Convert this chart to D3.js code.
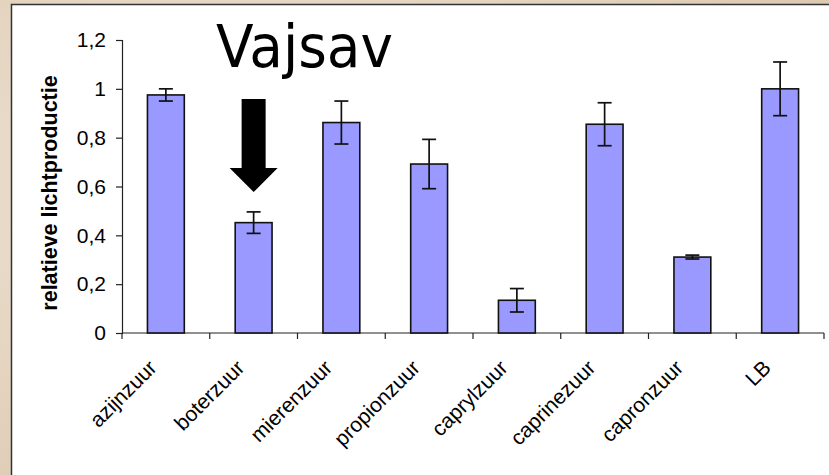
<!DOCTYPE html>
<html>
<head>
<meta charset="utf-8">
<script src="https://cdn.jsdelivr.net/npm/d3@7"></script>
<style>
  body { margin: 0; background: #e8dccb; }
  svg { display: block; }
</style>
</head>
<body>
<div id="chart"></div>
<script>
// data
var categories = ["azijnzuur", "boterzuur", "mierenzuur", "propionzuur", "caprylzuur", "caprinezuur", "capronzuur", "LB"];
var values = [0.975, 0.452, 0.862, 0.692, 0.134, 0.855, 0.311, 1.0];
var errors = [0.025, 0.044, 0.088, 0.101, 0.048, 0.088, 0.008, 0.11];
var yTicks = [0, 0.2, 0.4, 0.6, 0.8, 1, 1.2];

var width = 829, height = 475;
var font = "Liberation Sans, Arial, sans-serif";

var svg = d3.select("#chart").append("svg")
    .attr("width", width)
    .attr("height", height);

// textured-ish backdrop
var defs = svg.append("defs");
var grad = defs.append("radialGradient").attr("id", "bg")
    .attr("cx", "30%").attr("cy", "40%").attr("r", "80%");
grad.append("stop").attr("offset", "0%").attr("stop-color", "#efe5d8");
grad.append("stop").attr("offset", "60%").attr("stop-color", "#e4d4c0");
grad.append("stop").attr("offset", "100%").attr("stop-color", "#dcc9b2");

svg.append("rect")
    .attr("width", width).attr("height", height)
    .attr("fill", "url(#bg)");

// white panel
svg.append("rect")
    .attr("x", 11.5).attr("y", 4.5)
    .attr("width", width).attr("height", height)
    .attr("fill", "#fff")
    .attr("stroke", "#333")
    .attr("stroke-width", 1.5);

var x = d3.scaleBand()
    .domain(categories)
    .range([122, 824])
    .paddingInner(0.58)
    .paddingOuter(0.29);

var xEdges = d3.scaleBand()
    .domain(categories)
    .range([122, 824])
    .padding(0);

var y = d3.scaleLinear()
    .domain([0, 1.2])
    .range([333, 40]);

var fmt = function(d) { return String(d).replace(".", ","); };

// y axis
var yAxis = svg.append("g")
    .attr("transform", "translate(122,0)")
    .call(d3.axisLeft(y).tickValues(yTicks).tickFormat(fmt).tickSize(6).tickPadding(10));

yAxis.select(".domain").attr("stroke", "#222").attr("stroke-width", 1.2);
yAxis.selectAll(".tick line").attr("stroke", "#222").attr("stroke-width", 1.2);
yAxis.selectAll(".tick text")
    .attr("font-family", font)
    .attr("font-size", 21)
    .attr("fill", "#000");

// x axis (ticks at category boundaries)
var xAxis = svg.append("g")
    .attr("transform", "translate(0,333)");

xAxis.append("line")
    .attr("x1", 122).attr("x2", 824)
    .attr("stroke", "#222").attr("stroke-width", 1.2);

var edges = categories.map(function(c) { return xEdges(c); }).concat([824]);
xAxis.selectAll(".xt")
    .data(edges)
    .enter().append("line")
    .attr("x1", function(d) { return d; })
    .attr("x2", function(d) { return d; })
    .attr("y1", 0).attr("y2", 6)
    .attr("stroke", "#222").attr("stroke-width", 1.2);

xAxis.selectAll(".xl")
    .data(categories)
    .enter().append("text")
    .attr("transform", function(d) {
        return "translate(" + (x(d) + x.bandwidth() / 2 - 8) + ",36) rotate(-45)";
    })
    .attr("text-anchor", "end")
    .attr("font-family", font)
    .attr("font-size", 21)
    .attr("fill", "#000")
    .text(function(d) { return d; });

// bars
svg.selectAll(".bar")
    .data(categories)
    .enter().append("rect")
    .attr("x", function(d) { return x(d); })
    .attr("y", function(d, i) { return y(values[i]); })
    .attr("width", x.bandwidth())
    .attr("height", function(d, i) { return y(0) - y(values[i]); })
    .attr("fill", "#9999ff")
    .attr("stroke", "#111")
    .attr("stroke-width", 1.6);

// error bars
var err = svg.selectAll(".err")
    .data(categories)
    .enter().append("g")
    .attr("stroke", "#111")
    .attr("stroke-width", 1.7);

err.append("line")
    .attr("x1", function(d) { return x(d) + x.bandwidth() / 2; })
    .attr("x2", function(d) { return x(d) + x.bandwidth() / 2; })
    .attr("y1", function(d, i) { return y(values[i] + errors[i]); })
    .attr("y2", function(d, i) { return y(values[i] - errors[i]); });

[1, -1].forEach(function(s) {
    err.append("line")
        .attr("x1", function(d) { return x(d) + x.bandwidth() / 2 - 7; })
        .attr("x2", function(d) { return x(d) + x.bandwidth() / 2 + 7; })
        .attr("y1", function(d, i) { return y(values[i] + s * errors[i]); })
        .attr("y2", function(d, i) { return y(values[i] + s * errors[i]); });
});

// y label
svg.append("text")
    .attr("transform", "translate(57,193) rotate(-90)")
    .attr("text-anchor", "middle")
    .attr("font-family", font)
    .attr("font-weight", "bold")
    .attr("font-size", 21.5)
    .attr("fill", "#000")
    .text("relatieve lichtproductie");

// title
svg.append("text")
    .attr("x", 216)
    .attr("y", 67)
    .attr("font-family", "DejaVu Sans, sans-serif")
    .attr("font-size", 59)
    .attr("textLength", 177)
    .attr("lengthAdjust", "spacingAndGlyphs")
    .attr("fill", "#000")
    .text("Vajsav");

// arrow pointing at boterzuur
var ax = x("boterzuur") + x.bandwidth() / 2;
svg.append("path")
    .attr("d", "M" + (ax - 12) + ",99 L" + (ax + 12) + ",99 L" + (ax + 12) + ",168 L" + (ax + 24) + ",168 L" + ax + ",192 L" + (ax - 24) + ",168 L" + (ax - 12) + ",168 Z")
    .attr("fill", "#000");
</script>
</body>
</html>
